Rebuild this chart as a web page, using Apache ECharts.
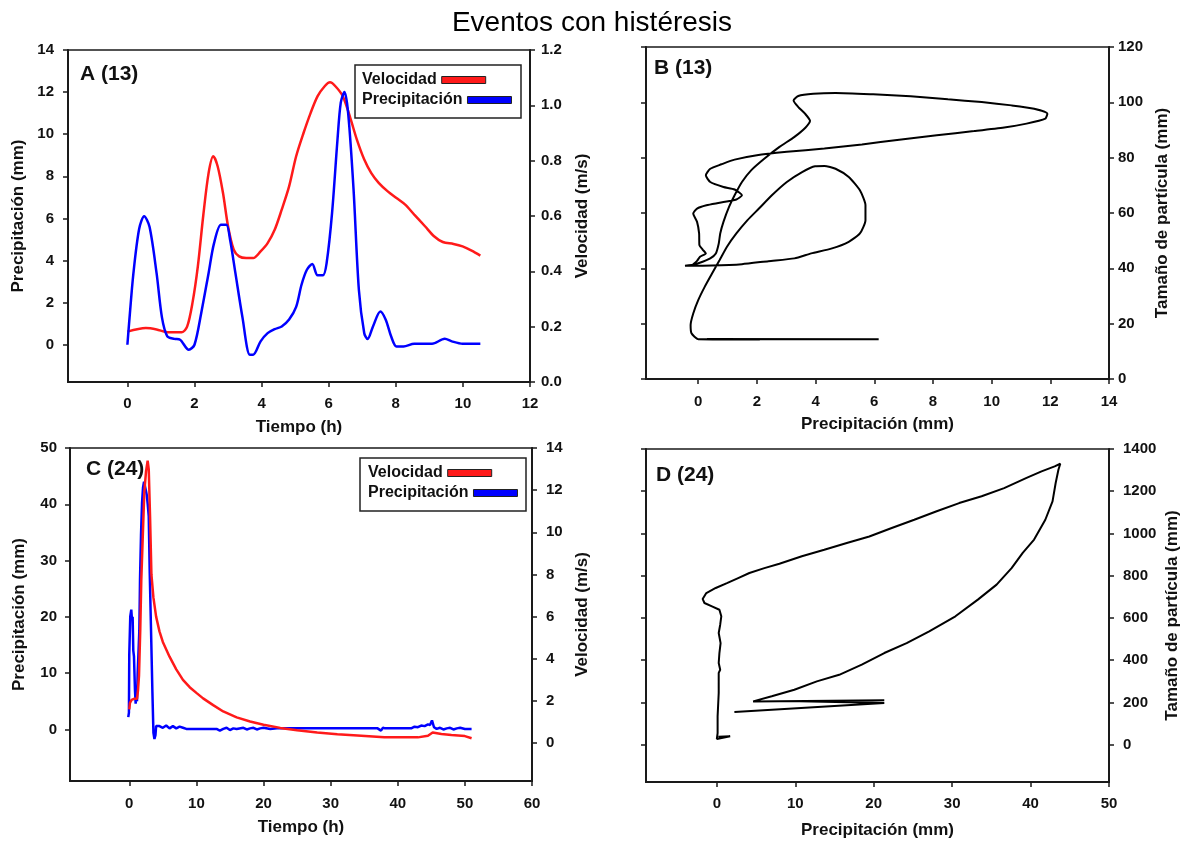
<!DOCTYPE html>
<html>
<head>
<meta charset="utf-8">
<script src="https://cdn.jsdelivr.net/npm/echarts@6/dist/echarts.min.js"></script>
<style>
html,body{margin:0;padding:0;background:#fff;}
#chart{width:1186px;height:845px;}
</style>
</head>
<body>
<div id="chart"></div>
<script>
// ---------- text ----------
const titleText = 'Eventos con histéresis';
const panelLabels = ['A (13)', 'B (13)', 'C (24)', 'D (24)'];
const seriesNames = ['Velocidad', 'Precipitación'];

// ---------- tick labels ----------
const aTimeTicks = [0, 2, 4, 6, 8, 10, 12];
const aPrecipTicks = [0, 2, 4, 6, 8, 10, 12, 14];
const aVelTicks = [0, 0.2, 0.4, 0.6, 0.8, 1.0, 1.2];
const bPrecipTicks = [0, 2, 4, 6, 8, 10, 12, 14];
const bSizeTicks = [0, 20, 40, 60, 80, 100, 120];
const cTimeTicks = [0, 10, 20, 30, 40, 50, 60];
const cPrecipTicks = [0, 10, 20, 30, 40, 50];
const cVelTicks = [0, 2, 4, 6, 8, 10, 12, 14];
const dPrecipTicks = [0, 10, 20, 30, 40, 50];
const dSizeTicks = [0, 200, 400, 600, 800, 1000, 1200, 1400];

// ---------- data: panel A (event 13) [tiempo h, valor] ----------
const aPrecipitacion = [[0,0],[0.05,1.0],[0.18,3.4],[0.35,5.5],[0.5,6.1],[0.66,5.6],[0.87,3.4],[1.03,1.3],[1.19,0.4],[1.4,0.28],[1.57,0.24],[1.83,-0.24],[2.0,0],[2.2,1.5],[2.42,3.4],[2.58,4.8],[2.79,5.7],[2.95,5.7],[3.06,5.0],[3.22,3.4],[3.43,1.3],[3.65,-0.47],[3.75,-0.47],[3.97,0.16],[4.18,0.55],[4.39,0.74],[4.6,0.87],[4.82,1.2],[5.03,1.8],[5.19,2.85],[5.35,3.56],[5.51,3.84],[5.67,3.3],[5.83,3.3],[5.94,3.9],[6.1,6.25],[6.26,9.7],[6.36,11.5],[6.47,12.0],[6.58,11.0],[6.74,7.4],[6.9,2.6],[7.06,0.55],[7.16,0.27],[7.32,0.87],[7.54,1.58],[7.7,1.19],[7.86,0.4],[8.02,-0.08],[8.23,-0.08],[8.55,0.05],[9.08,0.05],[9.46,0.28],[9.67,0.16],[9.99,0.05],[10.52,0.05]];
const aVelocidad = [[0,0.182],[0.55,0.195],[0.87,0.19],[1.19,0.18],[1.62,0.18],[1.78,0.2],[1.94,0.286],[2.1,0.418],[2.26,0.6],[2.42,0.755],[2.56,0.816],[2.69,0.78],[2.85,0.683],[3.0,0.563],[3.17,0.478],[3.33,0.454],[3.54,0.448],[3.75,0.448],[3.97,0.472],[4.18,0.502],[4.39,0.55],[4.6,0.623],[4.82,0.707],[5.03,0.816],[5.25,0.9],[5.46,0.972],[5.67,1.033],[5.88,1.069],[6.04,1.083],[6.2,1.069],[6.42,1.033],[6.63,0.96],[6.84,0.876],[7.06,0.804],[7.27,0.755],[7.49,0.72],[7.76,0.689],[8.02,0.665],[8.28,0.641],[8.55,0.605],[8.87,0.563],[9.14,0.527],[9.4,0.506],[9.72,0.499],[9.99,0.49],[10.26,0.475],[10.52,0.457]];

// ---------- data: panel B (event 13) [precipitación mm, tamaño mm] ----------
const bHisteresis = [[0,14.4],[6.15,14.4],[0.3,14.5],[2.1,14.3],[0,14.4],[-0.23,16.5],[-0.26,19.5],[-0.17,23.7],[0,28.5],[0.22,33.3],[0.47,38.1],[0.73,43],[0.98,47.8],[1.3,52.6],[1.68,57.4],[2.07,61.6],[2.51,66.4],[3.02,71.2],[3.54,74.8],[3.98,76.9],[4.3,77],[4.68,76],[5.13,73],[5.51,68.2],[5.7,62.8],[5.7,57.4],[5.51,52.6],[5.13,49.6],[4.56,47.2],[3.85,45.4],[3.28,43.6],[2.39,42.6],[1.49,41.5],[0.47,41],[-0.45,40.9],[-0.1,41.5],[0.15,42.4],[0.41,43.6],[0.6,45.4],[0.7,49],[0.75,52.6],[0.86,56.8],[1.05,62.2],[1.24,66.4],[1.49,71.2],[1.81,75.5],[2.26,79.7],[2.77,83.9],[3.28,87.5],[3.66,90.9],[3.81,93.3],[3.64,95.9],[3.41,98.3],[3.25,100.7],[3.41,102.3],[3.92,103.1],[4.68,103.4],[5.96,102.9],[7.24,102.2],[8.51,101.1],[9.66,100.1],[10.68,98.9],[11.45,97.7],[11.9,95.9],[11.83,94.1],[11.19,92.3],[10.43,90.9],[9.4,89.6],[8.13,88.1],[6.85,86.5],[5.58,84.8],[4.3,83.3],[3.02,82.1],[2.0,80.9],[1.24,79.3],[0.79,77.6],[0.41,76],[0.26,73.6],[0.41,71.2],[0.86,69.4],[1.24,68.5],[1.49,66.4],[1.3,64.9],[0.73,63.7],[0.28,62.8],[-0.04,61.6],[-0.17,59.8],[-0.04,56.8],[0.03,52.6],[0.04,48.4],[0.15,46.8],[0.26,45.4],[0.06,44.2],[-0.04,42.7],[-0.17,41.5]];

// ---------- data: panel C (event 24) [tiempo h, valor] ----------
const cPrecipitacion = [[-0.15,2.2],[-0.05,3.0],[0.0,13.3],[0.1,13.5],[0.15,20.1],[0.3,21.3],[0.4,19.5],[0.5,20.0],[0.6,14.0],[0.7,13.0],[0.85,7.0],[0.95,4.6],[1.05,6.0],[1.15,5.0],[1.25,10.0],[1.35,13.0],[1.5,17.6],[1.6,26.6],[1.75,34.6],[1.9,40.2],[2.05,43.0],[2.2,44.0],[2.45,42.6],[2.6,41.7],[2.75,40.0],[2.9,37.9],[3.05,27.8],[3.25,17.2],[3.45,6.5],[3.6,-0.6],[3.75,-1.7],[3.9,-1.0],[4.0,0.6],[4.5,0.6],[5.0,0.3],[5.5,0.7],[6.0,0.2],[6.5,0.6],[7.0,0.2],[7.5,0.5],[8.0,0.3],[8.5,0.1],[10,0.1],[12,0.1],[13,0.1],[13.5,-0.2],[14,0.1],[14.5,0.3],[15,-0.1],[15.5,0.2],[16,0.1],[17,0.3],[17.5,0.0],[18,0.2],[18.5,0.3],[19,0.0],[19.5,0.2],[20,0.3],[21,0.1],[22,0.2],[26,0.2],[30,0.2],[34,0.2],[37,0.2],[37.5,-0.2],[37.8,0.3],[38.1,0.2],[40,0.2],[42,0.2],[42.5,0.5],[43,0.4],[43.5,0.7],[44,0.6],[44.5,0.9],[44.8,0.8],[45.1,1.6],[45.4,0.4],[45.8,0.1],[46.3,0.3],[46.8,0.0],[47.3,0.2],[47.8,0.3],[48.3,0.0],[48.8,0.2],[49.3,0.3],[50,0.1],[51,0.1]];
const cVelocidad = [[0,1.6],[0.1,1.9],[0.35,2.05],[0.7,2.1],[1.15,2.1],[1.3,2.5],[1.45,3.2],[1.64,5.4],[1.79,7.7],[2.0,9.7],[2.24,11.9],[2.5,12.9],[2.74,13.4],[2.9,13.0],[3.1,10.7],[3.3,8.0],[3.6,6.9],[4.0,6.0],[4.5,5.3],[5.0,4.8],[6.0,4.1],[7.0,3.5],[8.0,3.0],[9.0,2.65],[10.0,2.38],[11.0,2.12],[12.5,1.8],[14.0,1.5],[16.0,1.22],[18.0,1.02],[20.0,0.87],[22.5,0.72],[25.0,0.61],[28.0,0.5],[31.0,0.42],[34.0,0.36],[38.0,0.28],[43.0,0.27],[44.5,0.35],[45.2,0.5],[46.5,0.43],[48.0,0.38],[50.0,0.33],[51.0,0.23]];

// ---------- data: panel D (event 24) [precipitación mm, tamaño mm] ----------
const dHisteresis = [[2.24,155],[21.35,197],[10.5,206],[21.35,210],[4.63,205],[7.0,229],[9.88,260],[12.75,300],[15.6,331],[18.48,379],[21.35,434],[24.2,481],[27.08,537],[30.42,608],[33.28,687],[35.67,758],[37.58,836],[39,908],[40.45,971],[41.88,1065],[42.8,1152],[43.2,1239],[43.55,1302],[43.79,1330],[43.07,1318],[41.4,1294],[39.49,1263],[36.63,1215],[33.76,1176],[30.9,1144],[28.03,1105],[25.17,1065],[22.3,1026],[19.44,986],[16.57,955],[13.7,923],[10.84,892],[7.98,857],[6.06,836],[4.15,813],[2.72,789],[1.29,765],[-0.14,742],[-1.34,718],[-1.81,690],[-1.58,671],[-0.62,655],[0.33,639],[0.57,608],[0.43,568],[0.24,529],[0.48,481],[0.33,434],[0.24,387],[0.43,355],[0.24,340],[0.24,245],[0.1,134],[0.1,55],[0,27],[1.7,40],[0.2,38]];

// ---------- style ----------
const FONT = 'Liberation Sans';
const AX = '#1a1a1a';
const RED = '#ff1a1a';
const BLUE = '#0000ff';

function valAxis(o) {
  const ax = {
    type: 'value', gridIndex: o.grid, position: o.position,
    min: o.min, max: o.max, scale: true,
    splitLine: {show: false},
    axisLine: {show: true, onZero: false, lineStyle: {color: AX, width: 2}},
    axisTick: {show: true, inside: false, length: 5, lineStyle: {color: AX, width: 1.5}, customValues: o.ticks},
    axisLabel: {show: o.labels !== false, customValues: o.ticks, margin: o.margin || 10,
      color: '#111', fontFamily: FONT, fontWeight: 'bold', fontSize: 15,
      formatter: o.fmt || (v => String(v))}
  };
  if (o.name) {
    ax.name = o.name;
    ax.nameLocation = 'middle';
    ax.nameGap = o.nameGap;
    ax.nameTextStyle = {color: '#111', fontFamily: FONT, fontWeight: 'bold', fontSize: 17};
  }
  return ax;
}

function legendItem(name, color, left, top) {
  return {
    left: left, top: top, orient: 'horizontal', align: 'right', padding: 0,
    itemWidth: 44, itemHeight: 7, selectedMode: false,
    textStyle: {fontFamily: FONT, fontWeight: 'bold', fontSize: 16, color: '#111'},
    data: [{name: name, icon: 'rect', itemStyle: {color: color, borderColor: '#222', borderWidth: 1}}]
  };
}

function lineSeries(name, xi, yi, data, color, width, smooth, z) {
  return {type: 'line', name: name, xAxisIndex: xi, yAxisIndex: yi, data: data,
    showSymbol: false, symbol: 'none', smooth: smooth, z: z,
    lineStyle: {color: color, width: width}, itemStyle: {color: color}};
}

const chart = echarts.init(document.getElementById('chart'), null, {renderer: 'canvas'});
chart.setOption({
  animation: false,
  backgroundColor: '#fff',
  title: {text: titleText, left: 587, top: 4, textAlign: 'center',
    textStyle: {fontFamily: FONT, fontWeight: 'normal', fontSize: 28, color: '#000'}},
  grid: [
    {left: 68, top: 50, width: 462, height: 332, show: true, borderColor: AX, borderWidth: 1.5, backgroundColor: 'transparent'},
    {left: 646, top: 47, width: 463, height: 332, show: true, borderColor: AX, borderWidth: 1.5, backgroundColor: 'transparent'},
    {left: 70, top: 448, width: 462, height: 333, show: true, borderColor: AX, borderWidth: 1.5, backgroundColor: 'transparent'},
    {left: 646, top: 449, width: 463, height: 333, show: true, borderColor: AX, borderWidth: 1.5, backgroundColor: 'transparent'}
  ],
  xAxis: [
    valAxis({grid: 0, position: 'bottom', min: -1.77, max: 12, ticks: aTimeTicks, margin: 14, name: 'Tiempo (h)', nameGap: 37}),
    valAxis({grid: 1, position: 'bottom', min: -1.78, max: 14, ticks: bPrecipTicks, margin: 15, name: 'Precipitación (mm)', nameGap: 37}),
    valAxis({grid: 2, position: 'bottom', min: -8.83, max: 60, ticks: cTimeTicks, margin: 15, name: 'Tiempo (h)', nameGap: 38}),
    valAxis({grid: 3, position: 'bottom', min: -9.03, max: 50, ticks: dPrecipTicks, margin: 14, name: 'Precipitación (mm)', nameGap: 40})
  ],
  yAxis: [
    valAxis({grid: 0, position: 'left', min: -1.77, max: 14, ticks: aPrecipTicks, margin: 14, name: 'Precipitación (mm)', nameGap: 41}),
    valAxis({grid: 0, position: 'right', min: 0, max: 1.2, ticks: aVelTicks, margin: 11, fmt: v => v.toFixed(1), name: 'Velocidad (m/s)', nameGap: 44}),
    valAxis({grid: 1, position: 'left', min: 0, max: 120, ticks: bSizeTicks, labels: false}),
    valAxis({grid: 1, position: 'right', min: 0, max: 120, ticks: bSizeTicks, margin: 9, name: 'Tamaño de partícula (mm)', nameGap: 45}),
    valAxis({grid: 2, position: 'left', min: -9.15, max: 50, ticks: cPrecipTicks, margin: 13, name: 'Precipitación (mm)', nameGap: 42}),
    valAxis({grid: 2, position: 'right', min: -1.8, max: 14, ticks: cVelTicks, margin: 14, name: 'Velocidad (m/s)', nameGap: 42}),
    valAxis({grid: 3, position: 'left', min: -176.6, max: 1400, ticks: dSizeTicks, labels: false}),
    valAxis({grid: 3, position: 'right', min: -176.6, max: 1400, ticks: dSizeTicks, margin: 14, name: 'Tamaño de partícula (mm)', nameGap: 55})
  ],
  legend: [
    legendItem(seriesNames[0], RED, 362, 72),
    legendItem(seriesNames[1], BLUE, 362, 92),
    legendItem(seriesNames[0], RED, 368, 465),
    legendItem(seriesNames[1], BLUE, 368, 485)
  ],
  graphic: [
    {type: 'rect', z: 3, shape: {x: 355, y: 65, width: 166, height: 53}, style: {fill: '#fff', stroke: '#222', lineWidth: 1.5}},
    {type: 'rect', z: 3, shape: {x: 360, y: 458, width: 166, height: 53}, style: {fill: '#fff', stroke: '#222', lineWidth: 1.5}},
    {type: 'text', z: 10, x: 80, y: 74, style: {text: panelLabels[0], textVerticalAlign: 'middle', font: 'bold 21px "Liberation Sans"', fill: '#111'}},
    {type: 'text', z: 10, x: 654, y: 68, style: {text: panelLabels[1], textVerticalAlign: 'middle', font: 'bold 21px "Liberation Sans"', fill: '#111'}},
    {type: 'text', z: 10, x: 86, y: 469, style: {text: panelLabels[2], textVerticalAlign: 'middle', font: 'bold 21px "Liberation Sans"', fill: '#111'}},
    {type: 'text', z: 10, x: 656, y: 475, style: {text: panelLabels[3], textVerticalAlign: 'middle', font: 'bold 21px "Liberation Sans"', fill: '#111'}}
  ],
  series: [
    lineSeries(seriesNames[0], 0, 1, aVelocidad, RED, 2.5, 0.3, 2),
    lineSeries(seriesNames[1], 0, 0, aPrecipitacion, BLUE, 2.5, 0.3, 3),
    lineSeries('Histéresis 13', 1, 3, bHisteresis, '#000', 2, 0.2, 2),
    lineSeries(seriesNames[1], 2, 4, cPrecipitacion, BLUE, 2.5, false, 2),
    lineSeries(seriesNames[0], 2, 5, cVelocidad, RED, 2.5, false, 3),
    lineSeries('Histéresis 24', 3, 7, dHisteresis, '#000', 2, false, 2)
  ]
});
</script>
</body>
</html>
